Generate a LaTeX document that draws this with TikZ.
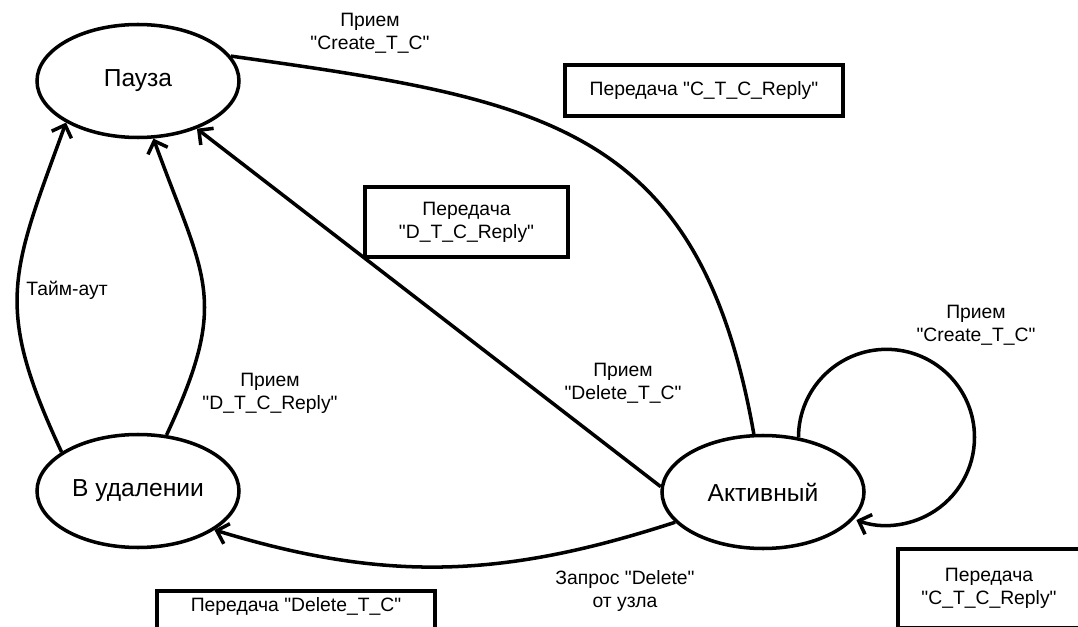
\documentclass[tikz,border=0pt]{standalone}
\usepackage{fontspec}
\setmainfont{Liberation Sans}[Ligatures=TeXOff]
\usetikzlibrary{shapes.geometric, arrows.meta}
\tikzset{state node/.style={ellipse,draw,line width=2pt,minimum width=4.04cm,minimum height=2.26cm,inner sep=0pt,font=\fontsize{14}{16}\selectfont}}
\tikzset{msg node/.style={rectangle,draw,line width=2pt,inner sep=0pt,align=center,font=\fontsize{11}{13}\selectfont}}
\tikzset{lbl node/.style={align=center,font=\fontsize{11}{13}\selectfont}}
\tikzset{arr/.style={line width=2pt,-{Straight Barb[length=2.1mm,width=4.2mm]}}}
\begin{document}
\begin{tikzpicture}
            \useasboundingbox (0,0) rectangle (21.56,12.52);
            % states
            \node[state node] (pause) at (2.76,10.9) {Пауза};
            \node[state node] (del) at (2.76,2.70) {В удалении};
            \node[state node] (act) at (15.26,2.68) {Активный};

            % messages
            \node[msg node,minimum width=5.56cm,minimum height=1.02cm] (ctc) at (14.08,10.71) {Передача "C\_T\_C\_Reply"};
            \node[msg node,minimum width=4.06cm,minimum height=1.40cm] (dtc) at (9.33,8.08) {Передача\\"D\_T\_C\_Reply"};
            \node[msg node,anchor=north,minimum width=5.56cm,inner ysep=0.14cm,text height=0.27cm,text depth=0.62cm] (dtcsend) at (5.92,0.74) {Передача "Delete\_T\_C"};
            \node[msg node,minimum width=3.64cm,minimum height=1.58cm] (ctcself) at (19.78,0.75) {Передача\\"C\_T\_C\_Reply"};

            % labels
            \foreach \x/\y/\n/\t in {7.40/11.86/lcreate/{Прием\\"Create\_T\_C"},
                                   1.34/6.72/ltime/{Тайм-аут},
                                   5.40/4.66/ldtc/{Прием\\"D\_T\_C\_Reply"},
                                   12.46/4.86/ldelete/{Прием\\"Delete\_T\_C"},
                                   19.52/6.02/lself/{Прием\\"Create\_T\_C"},
                                   12.50/0.70/lreq/{Запрос "Delete"\\от узла}}{
                \node[lbl node] (\n) at (\x,\y) {\t};
            }

            % transitions
            \draw[line width=2pt] (pause.15) to[out=-8,in=100,looseness=1.25] (act.99);
            \draw[arr] (act.177) -- (pause.-39);
            \draw[arr] (del.153) to[out=115,in=250,looseness=1.25] (pause.210);
            \draw[arr] (del.63) to[out=65,in=290,looseness=1.3] (pause.285);
            \draw[arr] (act.199) to[out=198,in=-17] (del.333);
            \draw[arr] (act.57) arc[start angle=180,end angle=-110,radius=1.76cm];
        \end{tikzpicture}
\end{document}
